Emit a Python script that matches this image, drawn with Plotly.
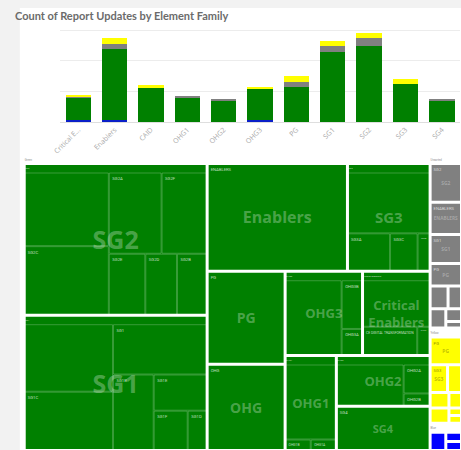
import plotly.graph_objects as go

# ---------------- bar chart: report updates per element family ----------------
bar_families = ["Critical E...", "Enablers", "CAID", "OHG1", "OHG2", "OHG3",
                "PG", "SG1", "SG2", "SG3", "SG4"]
bar_blue = [1, 1, 0, 0, 0, 1, 0, 0, 0, 0, 0]
bar_green = [15, 47, 22, 16, 14, 21, 23, 46, 50, 25, 14]
bar_grey = [1, 3, 0, 1, 1, 0, 3, 4, 5, 0, 1]
bar_yellow = [1, 4, 2, 0, 0, 1, 4, 3, 3, 3, 0]

# ---------------- treemap: status -> element family -> element ----------------
green_families = ["SG2", "SG1", "Enablers", "SG3", "PG", "OHG", "OHG3",
                  "Critical Enablers", "OHG1", "OHG2", "SG4"]
green_elements = [
    ["SG2", "SG2C", "SG2A", "SG2F", "SG2E", "SG2D", "SG2B"],
    ["SG1A", "SG1C", "SG1", "SG1B", "SG1E", "SG1F", "SG1D"],
    ["ENABLERS"],
    ["SG3", "SG3A", "SG3C", "SG3B"],
    ["PG"],
    ["OHG"],
    ["OHG3", "OHG3B", "OHG3A"],
    ["CE VALUE GENERATION", "CE DIGITAL TRANSFORMATION", "CE SUPPORT"],
    ["OHG1", "OHG1B", "OHG1A"],
    ["OHG2", "OHG2A", "OHG2B"],
    ["SG4"],
]
green_counts = [
    [64, 60, 44, 38, 23, 20, 19],
    [62, 54, 49, 32, 20, 14, 8],
    [146],
    [53, 17, 11, 5],
    [70],
    [65],
    [46, 11, 6],
    [34, 17, 4],
    [41, 3, 3],
    [33, 9, 4],
    [40],
]

unsorted_families = ["SG2", "Enablers", "SG1", "PG", "OHG2", "SG3",
                     "Critical Enablers", "OHG1", "SG4"]
unsorted_counts = [12, 10, 9, 7, 4, 3, 3, 2, 1]

yellow_families = ["PG", "SG3", "Enablers", "SG1", "SG2",
                   "Critical Enablers", "OHG3", "SG4"]
yellow_counts = [9, 5, 4, 3, 3, 2, 1, 1]

blue_families = ["Enablers", "OHG3", "Critical Enablers"]
blue_counts = [4, 2, 2]

status_groups = ["Green", "Unsorted", "Yellow", "Blue"]

# ---------------- styling ----------------
W, H = 461, 450
STATUS_COLOR = {"Green": "#008000", "Unsorted": "#808080",
                "Yellow": "#ffff00", "Blue": "#0000ff"}
BIG_LABEL_COLOR = {"Green": "rgba(255,255,255,0.30)", "Unsorted": "rgba(255,255,255,0.30)",
                   "Yellow": "rgba(110,110,0,0.45)", "Blue": "rgba(255,255,255,0.30)"}
SMALL_LABEL_COLOR = {"Green": "rgba(255,255,255,0.75)", "Unsorted": "rgba(255,255,255,0.7)",
                     "Yellow": "rgba(90,90,0,0.7)", "Blue": "rgba(255,255,255,0.7)"}
green_label_size = [25, 25, 16, 15, 14, 14, 13, 13, 13, 13, 11]
MIN_COUNT_FOR_CENTER_LABEL = 5  # narrow side-strip tiles only show the corner label
CLEAR = "rgba(0,0,0,0)"
FONT = "Open Sans"

fig = go.Figure()

# stacked bars, bottom to top
for name, vals, col in [("Blue", bar_blue, "#0a1fc8"), ("Green", bar_green, "#008000"),
                        ("Unsorted", bar_grey, "#808080"), ("Yellow", bar_yellow, "#ffff00")]:
    fig.add_trace(go.Bar(x=bar_families, y=vals, name=name,
                         marker=dict(color=col, line=dict(width=0)),
                         xaxis="x", yaxis="y"))

# collect the treemap hierarchy
group_members = {
    "Green": [(f, els, cts) for f, els, cts in zip(green_families, green_elements, green_counts)],
    "Unsorted": [(f, [f.upper()], [c]) for f, c in zip(unsorted_families, unsorted_counts)],
    "Yellow": [(f, [f.upper()], [c]) for f, c in zip(yellow_families, yellow_counts)],
    "Blue": [(f, [f.upper()], [c]) for f, c in zip(blue_families, blue_counts)],
}
group_total = {g: sum(sum(c) for _, _, c in group_members[g]) for g in status_groups}
grand_total = sum(group_total.values())


def big_text(fam):
    return fam.replace("Critical Enablers", "Critical<br>Enablers")


# trace A: status groups and families (coloured tiles, large faded family names)
A = dict(ids=[], labels=[], parents=[], values=[], colors=[], text=[],
         tsize=[], tcolor=[], lw=[], lc=[])


def add_a(i, lab, par, val, col, txt, ts, tc, lw, lc):
    for k, v in zip(["ids", "labels", "parents", "values", "colors", "text",
                     "tsize", "tcolor", "lw", "lc"],
                    [i, lab, par, val, col, txt, ts, tc, lw, lc]):
        A[k].append(v)


add_a("All", "All", "", grand_total, CLEAR, "", 10, CLEAR, 0, CLEAR)
for g in status_groups:
    add_a(g, g, "All", group_total[g], "white", "", 6, CLEAR, 0, CLEAR)
    for j, (fam, els, cts) in enumerate(group_members[g]):
        if g == "Green":
            size, txt = green_label_size[j], big_text(fam)
        else:
            size = 5
            txt = fam.upper() if sum(cts) >= MIN_COUNT_FOR_CENTER_LABEL else ""
        add_a(f"{g}/{fam}", fam, g, sum(cts), STATUS_COLOR[g], txt,
              size, BIG_LABEL_COLOR[g], 2, "white")

# trace B: element level outlines and small labels laid over trace A
B = dict(ids=[], labels=[], parents=[], values=[], text=[], tsize=[], tcolor=[], lw=[], lc=[])


def add_b(i, lab, par, val, txt, ts, tc, lw, lc):
    for k, v in zip(["ids", "labels", "parents", "values", "text", "tsize", "tcolor", "lw", "lc"],
                    [i, lab, par, val, txt, ts, tc, lw, lc]):
        B[k].append(v)


add_b("All", "All", "", grand_total, "", 6, CLEAR, 0, CLEAR)
for g in status_groups:
    add_b(g, g, "All", group_total[g], g, 5.5, "#8c8c8c", 0, CLEAR)
    for fam, els, cts in group_members[g]:
        fid = f"{g}/{fam}"
        tiny = els[0] if (g == "Green" or sum(cts) >= MIN_COUNT_FOR_CENTER_LABEL) else ""
        add_b(fid, fam, g, sum(cts), tiny, 4.2, SMALL_LABEL_COLOR[g], 0, CLEAR)
        if len(els) > 1:
            for k, (el, c) in enumerate(zip(els, cts)):
                add_b(f"{fid}/{el}", el, fid, c, "" if k == 0 else el, 4.2,
                      SMALL_LABEL_COLOR[g], 0.8, "rgba(255,255,255,0.28)")

tm_domain = dict(x=[17 / W, 1.0], y=[0.0, 1 - 146 / H])
tm_common = dict(branchvalues="total", sort=True, domain=tm_domain,
                 tiling=dict(packing="squarify", pad=1),
                 pathbar=dict(visible=False), textinfo="text",
                 hoverinfo="label+value")

fig.add_trace(go.Treemap(
    ids=A["ids"], labels=A["labels"], parents=A["parents"], values=A["values"],
    text=A["text"], textposition="middle center",
    textfont=dict(family=FONT, size=A["tsize"], color=A["tcolor"], weight=700),
    marker=dict(colors=A["colors"], depthfade=False,
                line=dict(width=A["lw"], color=A["lc"]),
                pad=dict(t=9, l=0, r=0, b=0)),
    **tm_common))

fig.add_trace(go.Treemap(
    ids=B["ids"], labels=B["labels"], parents=B["parents"], values=B["values"],
    text=B["text"], textposition="top left",
    textfont=dict(family="Roboto", size=B["tsize"], color=B["tcolor"]),
    marker=dict(colors=[CLEAR] * len(B["ids"]), depthfade=False,
                line=dict(width=B["lw"], color=B["lc"]),
                pad=dict(t=9, l=0, r=0, b=0)),
    **tm_common))

fig.update_layout(
    width=W, height=H,
    margin=dict(l=0, r=0, t=0, b=0),
    paper_bgcolor="#f2f2f2", plot_bgcolor="rgba(0,0,0,0)",
    barmode="stack", bargap=0.3, showlegend=False,
    font=dict(family=FONT),
    title=dict(text="Count of Report Updates by Element Family",
               x=15 / W, xanchor="left", y=1 - 16 / H, yanchor="middle",
               font=dict(family="Lato", size=11, color="#6b6b6b", weight=700)),
    xaxis=dict(domain=[53 / W, 460 / W], tickangle=-45, showgrid=False,
               tickfont=dict(size=7, color="#a8a8a8"), showline=True,
               linecolor="#dedede", linewidth=1, ticks=""),
    yaxis=dict(domain=[1 - 122 / H, 1 - 28 / H], range=[0, 61.6], dtick=20,
               showticklabels=False, gridcolor="#ececec", zeroline=False),
    shapes=[dict(type="rect", xref="paper", yref="paper", layer="below",
                 x0=12 / W, x1=1.0, y0=0, y1=1 - 8 / H,
                 fillcolor="white", line=dict(width=0))],
)

fig.write_html("out.html")
